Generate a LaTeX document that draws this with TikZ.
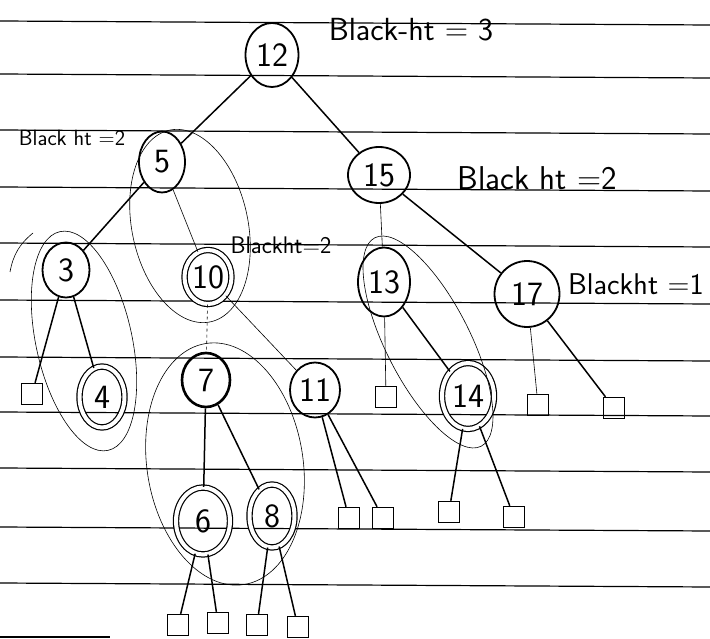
\documentclass[tikz,border=0pt]{standalone}
\usepackage{tikz}
\usetikzlibrary{shapes.geometric}

\begin{document}
\begin{tikzpicture}[x=1pt, y=-1pt,
  bn/.style={ellipse, draw, line width=1.8pt, inner sep=0pt,
    font=\sffamily\fontsize{34}{34}\selectfont},
  rn/.style={bn, double, double distance=4pt, line width=1.2pt},
  sz/.style 2 args={minimum width=#1pt, minimum height=#2pt},
  lf/.style={draw, line width=1.4pt, minimum size=21pt, inner sep=0pt},
  link/.style={line width=1.5pt},
  faint/.style={line width=0.6pt},
  ring/.style={line width=0.6pt},
  rule/.style={line width=1.2pt},
  lbl/.style={font=\sffamily\fontsize{#1}{#1}\selectfont, inner sep=0pt}]
  \useasboundingbox (0,0) rectangle (710,639);
  \foreach \y in {21,74,130,187,243,300,357,412,468,527,583}
    \draw[rule] (0,\y) -- (710,\y+4);
  \draw[rule] (0,637) -- (110,637);

  \node[bn, sz={53}{64}] (n12) at (272,55) {12};
  \node[bn, sz={46}{61}] (n5) at (162,162) {5};
  \node[bn, sz={62}{56}] (n15) at (379,175) {15};
  \node[bn, sz={47}{55}] (n3) at (66,270) {3};
  \node[rn, sz={47}{54}] (n10) at (208,277) {10};
  \node[bn, sz={52}{69}] (n13) at (384,282) {13};
  \node[bn, sz={65}{66}] (n17) at (527,294) {17};
  \node[rn, sz={45}{61}] (n4) at (102,397) {4};
  \node[bn, sz={48}{54}, line width=2.6pt] (n7) at (206,380) {7};
  \node[bn, sz={50}{55}] (n11) at (315,390) {11};
  \node[rn, sz={52}{66}] (n14) at (468,396) {14};
  \node[rn, sz={54}{67}] (n6) at (203,521) {6};
  \node[rn, sz={45}{63}] (n8) at (272,516) {8};

  \node[lf] (l3) at (32,394) {};
  \node[lf] (l13) at (386,397) {};
  \node[lf] (l17a) at (538,405) {};
  \node[lf] (l17b) at (614,408) {};
  \node[lf] (l11a) at (349,518) {};
  \node[lf] (l11b) at (383,518) {};
  \node[lf] (l14a) at (449,512) {};
  \node[lf] (l14b) at (514,517) {};
  \node[lf] (l6a) at (178,625) {};
  \node[lf] (l6b) at (218,623) {};
  \node[lf] (l8a) at (257,625) {};
  \node[lf] (l8b) at (298,627) {};

  \draw[link] (n12) -- (n5);
  \draw[link] (n12) -- (n15);
  \draw[link] (n5) -- (n3);
  \draw[faint] (n5) -- (n10);
  \draw[faint] (n15) -- (n13);
  \draw[link] (n15) -- (n17);
  \draw[link] (n3) -- (l3);
  \draw[link] (n3) -- (n4);
  \draw[faint, dashed] (n10) -- (n7);
  \draw[faint] (n10) -- (n11);
  \draw[faint] (n13) -- (l13);
  \draw[link] (n13) -- (n14);
  \draw[faint] (n17) -- (l17a);
  \draw[link] (n17) -- (l17b);
  \draw[link] (n7) -- (n6);
  \draw[link] (n7) -- (n8);
  \draw[link] (n11) -- (l11a);
  \draw[link] (n11) -- (l11b);
  \draw[link] (n14) -- (l14a);
  \draw[link] (n14) -- (l14b);
  \draw[link] (n6) -- (l6a);
  \draw[link] (n6) -- (l6b);
  \draw[link] (n8) -- (l8a);
  \draw[link] (n8) -- (l8b);

  \draw[ring, rotate around={-77.6:(84,341)}] (84,341) ellipse [x radius=112pt, y radius=48pt];
  \draw[ring, rotate around={-78:(190,226)}] (190,226) ellipse [x radius=98pt, y radius=58pt];
  \draw[ring, rotate around={-81:(225,464)}] (225,464) ellipse [x radius=122pt, y radius=78pt];
  \draw[ring, rotate around={-63:(428,342)}] (428,342) ellipse [x radius=117pt, y radius=42pt];
  \draw[ring] (10,272) to[bend left=20] (33,233);

  \node[lbl=32] (bhroot) at (411,30) {Black-ht = 3};
  \node[lbl=22] (bh5) at (72,138) {Black ht =2};
  \node[lbl=33] (bh15) at (537,178) {Black ht =2};
  \node[lbl=24] (bh10) at (281,245) {Blackht=2};
  \node[lbl=30, anchor=west] (bh17) at (568,284) {Blackht =1};
\end{tikzpicture}
\end{document}
